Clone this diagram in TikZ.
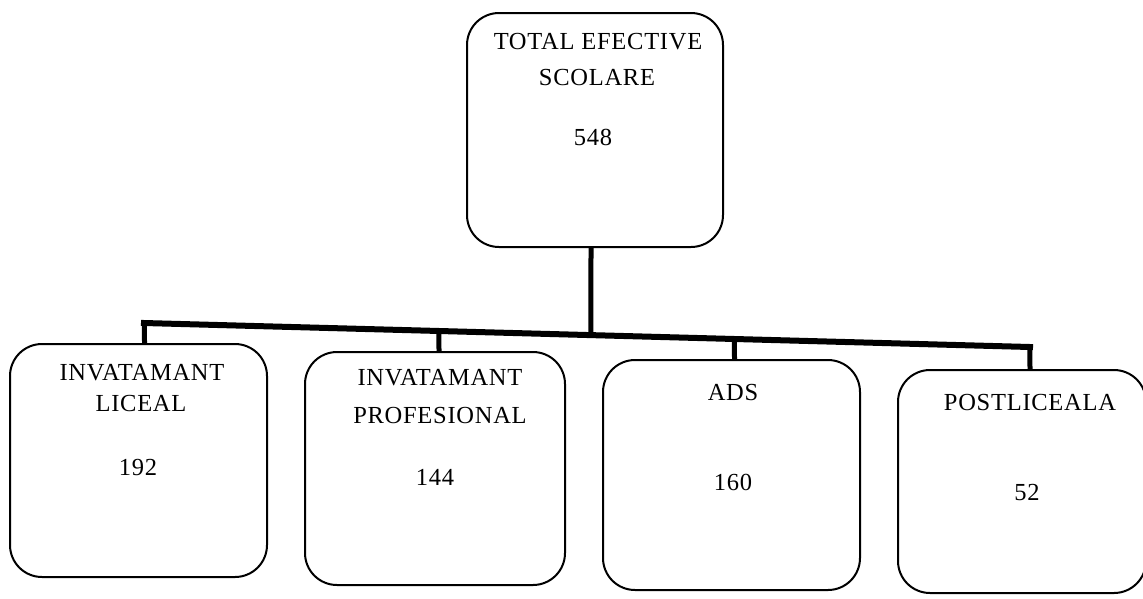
\documentclass[tikz,border=0pt]{standalone}
\usepackage{fontspec}
\setmainfont{Liberation Serif}
\usetikzlibrary{calc}
\tikzset{
  boxnode/.style={draw=black, line width=2pt, rounded corners=32pt, fill=none, inner sep=0pt},
  lbl/.style={inner sep=0pt, anchor=center, font=\fontsize{24.5}{26}\selectfont\addfontfeature{LetterSpace=3}},
  barline/.style={line width=6pt, line cap=rect, black},
  dropline/.style={line width=5pt, black}
}
\begin{document}
\begin{tikzpicture}[x=1pt, y=-1pt]
\useasboundingbox (0,0) rectangle (1143,598);
\clip (0,0) rectangle (1143,598);
% boxes
\node[boxnode, minimum width=256pt, minimum height=234pt] (top) at (595,130) {};
\node[boxnode, minimum width=257pt, minimum height=233pt] (b1) at (138.5,460.5) {};
\node[boxnode, minimum width=260pt, minimum height=233pt] (b2) at (435,468.5) {};
\node[boxnode, minimum width=257pt, minimum height=230pt] (b3) at (731.5,475) {};
\node[boxnode, minimum width=248pt, minimum height=223pt] (b4) at (1022,481.5) {};
% texts
\node[lbl] (t1) at (598,42) {TOTAL EFECTIVE};
\node[lbl] (t2) at (597,78) {SCOLARE};
\node[lbl] (t3) at (593,137) {548};
\node[lbl] (l1) at (142,373) {INVATAMANT};
\node[lbl] (l2) at (141,403) {LICEAL};
\node[lbl] (l3) at (138,467) {192};
\node[lbl] (p1) at (440,378) {INVATAMANT};
\node[lbl] (p2) at (440,415) {PROFESIONAL};
\node[lbl] (p3) at (435,477) {144};
\node[lbl] (a1) at (733,392) {ADS};
\node[lbl] (a2) at (733,482) {160};
\node[lbl] (s1) at (1030,402) {POSTLICEALA};
\node[lbl] (s2) at (1027,492) {52};
% connectors
\coordinate (jl) at (144,323);
\coordinate (jr) at (1030,347);
\coordinate (u0) at ([xshift=-4pt]top.south);
\coordinate (u0b) at ([xshift=-4pt,yshift=-20pt]top.south);
\coordinate (u1) at ([xshift=6pt]b1.north);
\coordinate (u1b) at ([xshift=6pt,yshift=20pt]b1.north);
\coordinate (u2) at ([xshift=4pt]b2.north);
\coordinate (u2b) at ([xshift=4pt,yshift=20pt]b2.north);
\coordinate (u3) at ([xshift=3pt]b3.north);
\coordinate (u3b) at ([xshift=3pt,yshift=20pt]b3.north);
\coordinate (u4) at ([xshift=8pt]b4.north);
\coordinate (u4b) at ([xshift=8pt,yshift=20pt]b4.north);
\draw[barline] (jl) -- (jr);
\draw[dropline] (u0) -- (intersection of jl--jr and u0--u0b);
\draw[dropline] (intersection of jl--jr and u1--u1b) -- (u1);
\draw[dropline] (intersection of jl--jr and u2--u2b) -- (u2);
\draw[dropline] (intersection of jl--jr and u3--u3b) -- (u3);
\draw[dropline] (intersection of jl--jr and u4--u4b) -- (u4);
\end{tikzpicture}
\end{document}
